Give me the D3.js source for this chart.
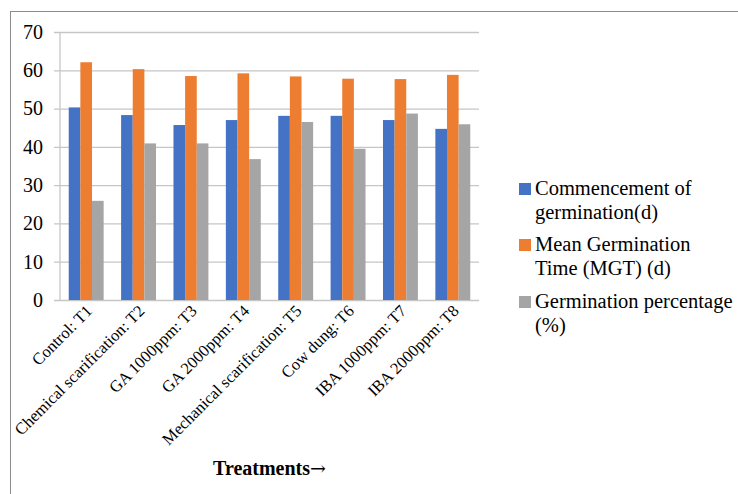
<!DOCTYPE html>
<html>
<head>
<meta charset="utf-8">
<script src="https://cdn.jsdelivr.net/npm/d3@7/dist/d3.min.js"></script>
<style>
  html, body { margin: 0; padding: 0; background: #fff; }
  svg { display: block; }
  text { font-family: "Liberation Serif", "Times New Roman", serif; fill: #000; }
</style>
</head>
<body>
<svg id="chart" width="738" height="494"></svg>
<script>
// Treatments on the category axis
const categories = [
  "Control: T1",
  "Chemical scarification: T2",
  "GA 1000ppm: T3",
  "GA 2000ppm: T4",
  "Mechanical scarification: T5",
  "Cow dung: T6",
  "IBA 1000ppm: T7",
  "IBA 2000ppm: T8"
];

// Series names (legend) and their values per treatment
const seriesNames = [
  ["Commencement of", "germination(d)"],
  ["Mean Germination", "Time (MGT) (d)"],
  ["Germination percentage", "(%)"]
];
const commencement = [50.3, 48.3, 45.7, 47.0, 48.1, 48.1, 47.0, 44.7];
const mgt          = [62.1, 60.3, 58.5, 59.2, 58.4, 57.8, 57.7, 58.8];
const germPercent  = [25.9, 40.9, 40.9, 36.8, 46.5, 39.5, 48.7, 45.9];
const yTicks = [0, 10, 20, 30, 40, 50, 60, 70];
const colors = ["#4472C4", "#ED7D31", "#A5A5A5"];

const series = [commencement, mgt, germPercent];
const SERIF = "'Liberation Serif', 'Times New Roman', serif";

const svg = d3.select("#chart");

// outer chart frame
svg.append("rect")
  .attr("x", 10.5).attr("y", 11.5)
  .attr("width", 900).attr("height", 700)
  .attr("fill", "none").attr("stroke", "#8c8c8c").attr("stroke-width", 1);

const plot = { left: 60, right: 479, top: 32, bottom: 300 };

const y = d3.scaleLinear().domain([0, 70]).range([plot.bottom, plot.top]);

// gap width 150% of a bar: 3 bars + 1.5 gap per category
const x0 = d3.scaleBand()
  .domain(categories)
  .range([plot.left, plot.right])
  .paddingInner(1.5 / 4.5)
  .paddingOuter(0.75 / 4.5);
const x1 = d3.scaleBand()
  .domain(d3.range(series.length))
  .range([0, x0.bandwidth()]);

// value axis: gridlines with short stubs left of the axis line
const gy = svg.append("g")
  .attr("transform", `translate(${plot.left},0)`)
  .attr("font-family", SERIF)
  .call(d3.axisLeft(y)
    .tickValues(yTicks)
    .tickSize(6)
    .tickPadding(11)
    .tickFormat(d3.format("d")));
gy.select(".domain").remove();
gy.selectAll(".tick line")
  .attr("x1", -6)
  .attr("x2", plot.right - plot.left)
  .attr("stroke", "#c6c6c6")
  .attr("stroke-width", 1.3);
gy.selectAll(".tick text")
  .style("font-size", "20px")
  .style("font-family", SERIF)
  .attr("fill", "#000");

// vertical value axis line
svg.append("line")
  .attr("x1", plot.left).attr("x2", plot.left)
  .attr("y1", plot.top).attr("y2", plot.bottom)
  .attr("stroke", "#c6c6c6").attr("stroke-width", 1.3);

// bars
const groups = svg.append("g").selectAll("g")
  .data(categories)
  .join("g")
  .attr("transform", d => `translate(${x0(d)},0)`);

groups.selectAll("rect")
  .data((d, i) => series.map((s, k) => ({ k, v: s[i] })))
  .join("rect")
  .attr("x", d => x1(d.k))
  .attr("width", x1.bandwidth())
  .attr("y", d => y(d.v))
  .attr("height", d => y(0) - y(d.v))
  .attr("fill", d => colors[d.k]);

// category axis
const gx = svg.append("g")
  .attr("transform", `translate(0,${plot.bottom})`)
  .attr("font-family", SERIF)
  .call(d3.axisBottom(x0).tickSize(0).tickPadding(0));
gx.select(".domain").remove();
gx.selectAll(".tick text")
  .style("font-size", "16.5px")
  .style("font-family", SERIF)
  .attr("fill", "#000")
  .attr("text-anchor", "end")
  .attr("dy", null)
  .attr("y", 0)
  .attr("transform", "translate(7,12) rotate(-45)");

// axis title
const title = svg.append("text")
  .attr("x", (plot.left + plot.right) / 2)
  .attr("y", 475)
  .attr("text-anchor", "middle")
  .style("font-size", "20px")
  .style("font-weight", "bold");
title.append("tspan").text("Treatments");
title.append("tspan")
  .style("font-family", "'DejaVu Serif', serif")
  .style("font-weight", "normal")
  .style("font-size", "19px")
  .text("\u2192");

// legend
const legend = svg.append("g");
const legendBase = [195, 251, 308];
seriesNames.forEach((lines, k) => {
  legend.append("rect")
    .attr("x", 519).attr("y", legendBase[k] - 12)
    .attr("width", 12).attr("height", 12)
    .attr("fill", colors[k]);
  const t = legend.append("text")
    .attr("x", 535).attr("y", legendBase[k])
    .style("font-family", SERIF)
    .style("font-size", "20.5px");
  lines.forEach((ln, j) => {
    t.append("tspan").attr("x", 535).attr("dy", j === 0 ? 0 : 24).text(ln);
  });
});
</script>
</body>
</html>
